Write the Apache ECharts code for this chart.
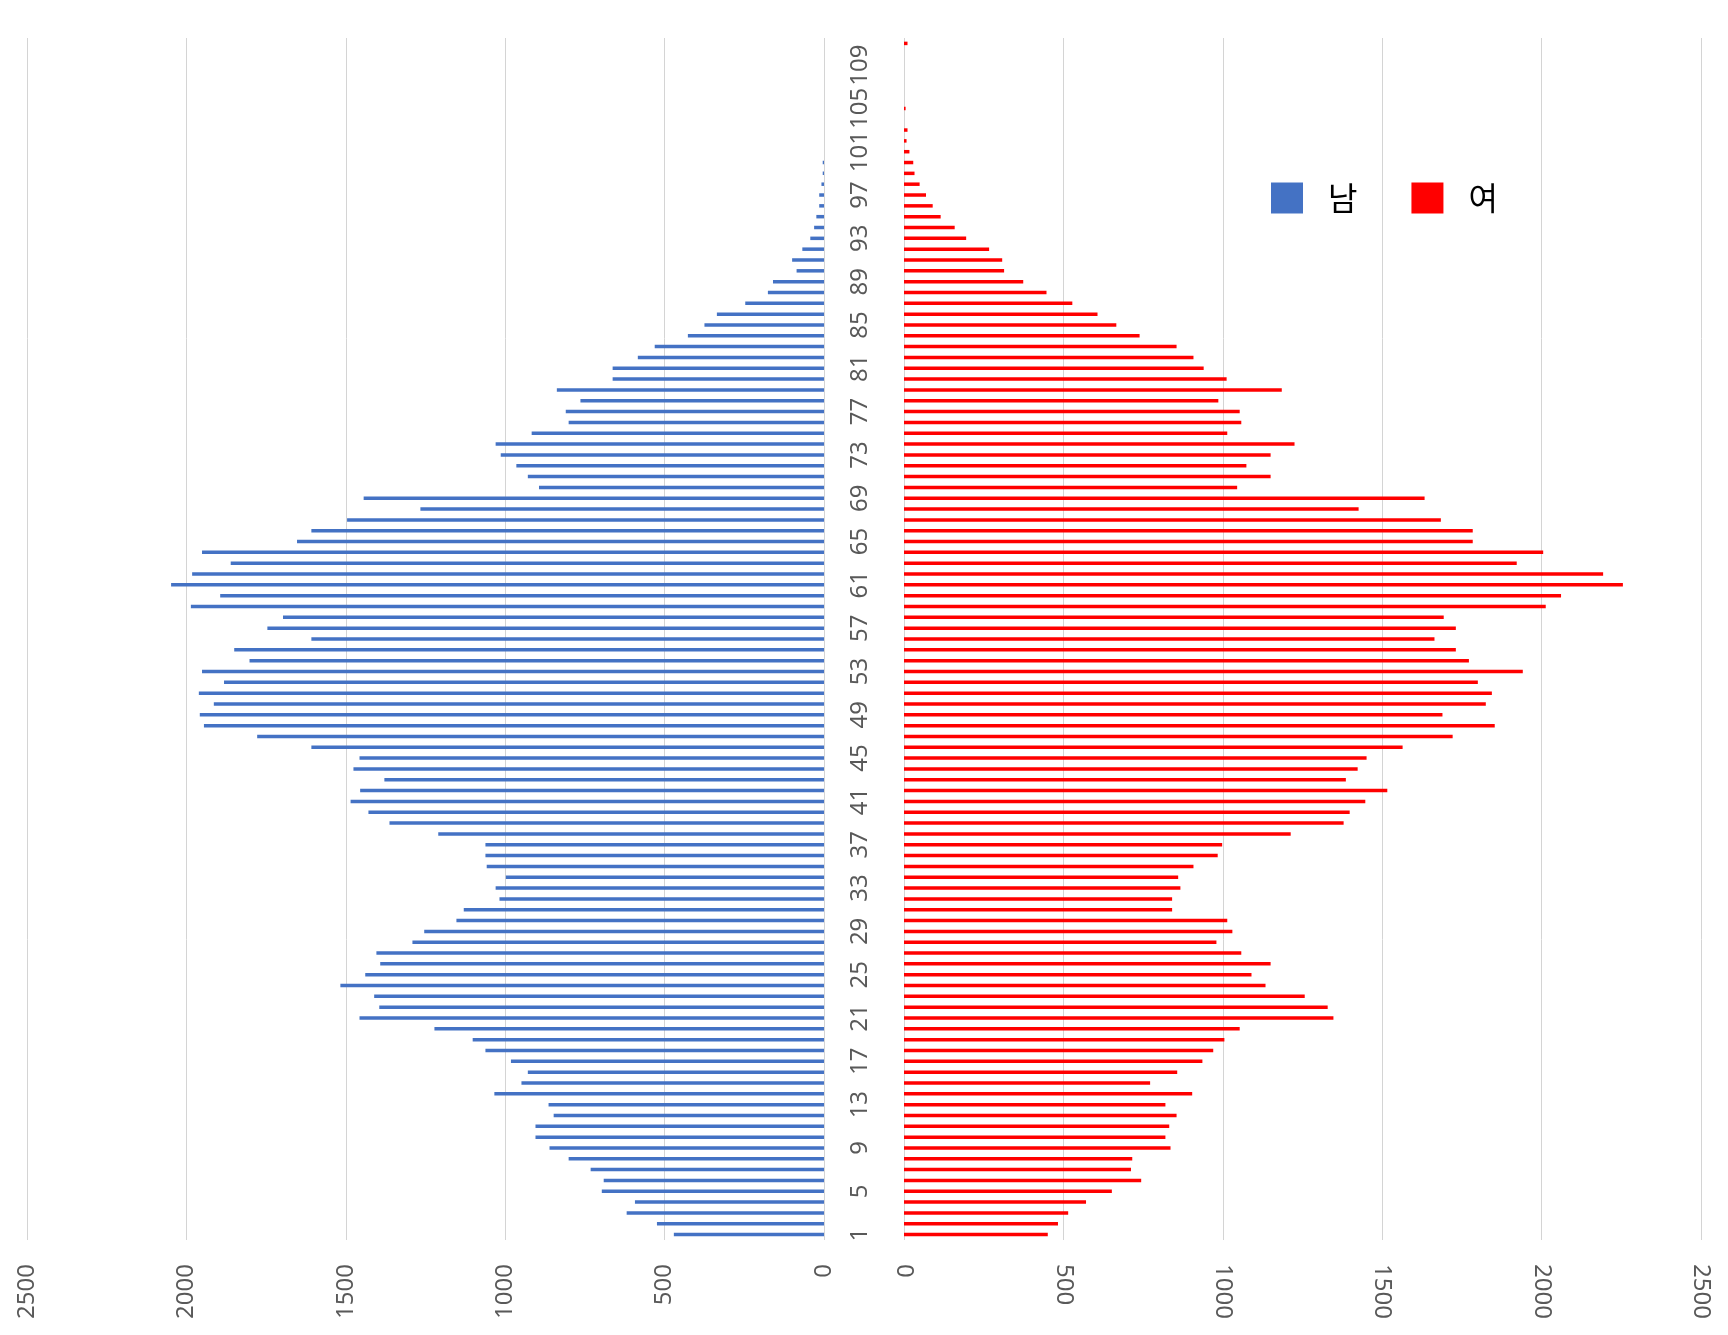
<!DOCTYPE html>
<html>
<head>
<meta charset="utf-8">
<script src="https://cdn.jsdelivr.net/npm/echarts@6/dist/echarts.min.js"></script>
<style>
html,body{margin:0;padding:0;background:#fff;}
#chart{width:1728px;height:1335px;}
</style>
</head>
<body>
<div id="chart"></div>
<script>
// Ages 1..111
const ages = [];
for (let a = 1; a <= 111; a++) ages.push(String(a));

const maleValues = [
  471, 524, 619, 593, 697, 691, 732, 801, 861, 905,
  905, 848, 864, 1034, 949, 929, 982, 1062, 1102, 1222,
  1457, 1395, 1411, 1517, 1439, 1392, 1404, 1291, 1254, 1153,
  1130, 1018, 1030, 998, 1058, 1062, 1062, 1210, 1363, 1429,
  1485, 1455, 1379, 1476, 1457, 1608, 1778, 1945, 1958, 1914,
  1961, 1882, 1951, 1802, 1850, 1608, 1746, 1697, 1986, 1894,
  2048, 1982, 1861, 1951, 1653, 1608, 1496, 1266, 1444, 894,
  929, 965, 1014, 1030, 917, 801, 810, 764, 838, 663,
  663, 584, 531, 427, 375, 336, 247, 176, 160, 86,
  100, 68, 43, 31, 24, 15, 15, 8, 4, 4,
  0, 0, 0, 0, 0, 0, 0, 0, 0, 0,
  0
];

const femaleValues = [
  451, 483, 515, 571, 652, 744, 712, 716, 836, 820,
  832, 855, 820, 904, 772, 857, 936, 970, 1005, 1053,
  1347, 1329, 1257, 1134, 1090, 1150, 1058, 980, 1030, 1014,
  841, 841, 867, 860, 908, 984, 998, 1213, 1379, 1398,
  1447, 1516, 1386, 1423, 1451, 1564, 1721, 1853, 1689, 1825,
  1844, 1800, 1941, 1772, 1731, 1664, 1731, 1693, 2013, 2061,
  2255, 2193, 1922, 2005, 1784, 1784, 1684, 1426, 1633, 1045,
  1150, 1074, 1150, 1225, 1014, 1058, 1053, 986, 1185, 1012,
  940, 908, 855, 739, 666, 607, 528, 447, 374, 314,
  308, 267, 195, 159, 115, 90, 69, 49, 33, 29,
  17, 8, 11, 0, 5, 0, 0, 0, 0, 0,
  11
];

const seriesNames = ['남', '여'];
const valueMax = 2500;
const valueStep = 500;

const labelFont = 'Noto Sans, "Noto Sans CJK KR", sans-serif';
const labelColor = '#595959';
const gridColor = '#d4d4d4';

const chart = echarts.init(document.getElementById('chart'), null, {renderer: 'canvas'});

const valueAxisBase = {
  type: 'value',
  min: 0,
  max: valueMax,
  interval: valueStep,
  axisLine: {show: false},
  axisTick: {show: false},
  splitLine: {show: true, lineStyle: {color: gridColor, width: 1}},
  axisLabel: {fontSize: 24, color: labelColor, fontFamily: labelFont, margin: 24,
    formatter: function (v) { return String(v); }}
};

chart.setOption({
  animation: false,
  backgroundColor: '#ffffff',
  legend: {
    data: seriesNames,
    left: 1266,
    top: 177,
    itemWidth: 32,
    itemHeight: 31,
    itemGap: 54,
    icon: 'rect',
    textStyle: {fontSize: 32, color: '#000000', fontFamily: '"Noto Sans CJK KR", sans-serif', padding: [0, 0, 0, 20]}
  },
  grid: [
    {left: 27, width: 797, top: 38, height: 1202, containLabel: false},
    {left: 904, width: 797, top: 38, height: 1202, containLabel: false}
  ],
  xAxis: [
    Object.assign({}, valueAxisBase, {
      gridIndex: 0, inverse: true, position: 'bottom',
      axisLabel: Object.assign({}, valueAxisBase.axisLabel, {rotate: 90})
    }),
    Object.assign({}, valueAxisBase, {
      gridIndex: 1, position: 'bottom',
      axisLabel: Object.assign({}, valueAxisBase.axisLabel, {rotate: -90})
    })
  ],
  yAxis: [
    {
      type: 'category', gridIndex: 0, position: 'right', data: ages,
      axisLine: {show: false}, axisTick: {show: false}, splitLine: {show: false},
      axisLabel: {interval: 3, rotate: 90, fontSize: 24, color: labelColor, fontFamily: labelFont, margin: 24}
    },
    {
      type: 'category', gridIndex: 1, position: 'left', data: ages,
      axisLine: {show: false}, axisTick: {show: false}, splitLine: {show: false},
      axisLabel: {show: false}
    }
  ],
  series: [
    {
      name: seriesNames[0], type: 'bar', xAxisIndex: 0, yAxisIndex: 0,
      data: maleValues, barWidth: 3.5, itemStyle: {color: '#4472C4'}
    },
    {
      name: seriesNames[1], type: 'bar', xAxisIndex: 1, yAxisIndex: 1,
      data: femaleValues, barWidth: 3.5, itemStyle: {color: '#FF0000'}
    }
  ]
});
</script>
</body>
</html>
